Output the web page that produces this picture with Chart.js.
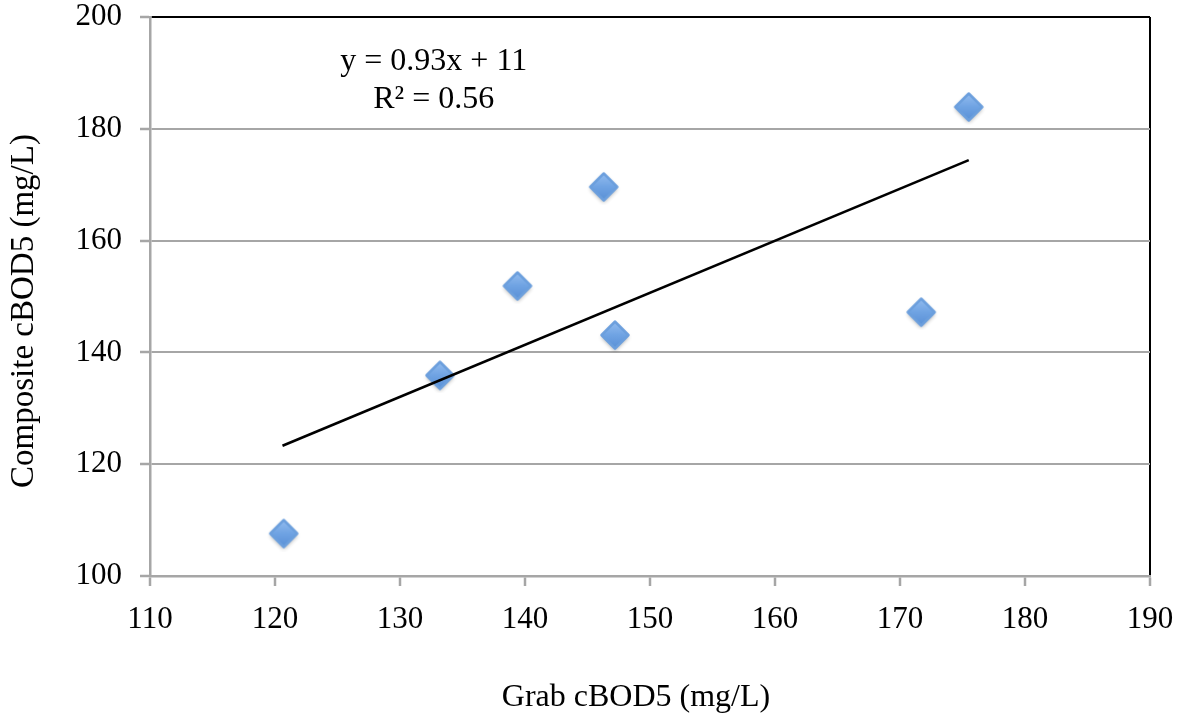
<!DOCTYPE html>
<html><head><meta charset="utf-8">
<script src="https://cdn.jsdelivr.net/npm/chart.js@4.4.1/dist/chart.umd.min.js"></script>
<style>html,body{margin:0;padding:0;background:#fff;overflow:hidden}#c{display:block}</style>
</head><body><canvas id="c" width="1182" height="719"></canvas>
<script>
// ---- data ----
const grabValues = [120.7, 133.2, 139.4, 146.3, 147.2, 171.7, 175.5];
const compositeValues = [107.6, 135.9, 151.9, 169.6, 143.1, 147.2, 183.9];
const trendX = [120.6, 175.5];
const trendY = [123.3, 174.4];
const xTickValues = [110, 120, 130, 140, 150, 160, 170, 180, 190];
const yTickValues = [100, 120, 140, 160, 180, 200];
const equationLines = ['y = 0.93x + 11', 'R\u00B2 = 0.56'];
const xTitle = 'Grab cBOD5 (mg/L)';
const yTitle = 'Composite cBOD5 (mg/L)';

// ---- styling ----
const FONT = '"Liberation Serif", "Times New Roman", serif';
const GRID = '#a6a6a6';

function makeDiamond() {
  const s = 36, c = document.createElement('canvas');
  c.width = s; c.height = s;
  const g = c.getContext('2d');
  const r = 13.5, cx = s / 2, cy = s / 2;
  function path() {
    g.beginPath();
    g.moveTo(cx, cy - r);
    g.lineTo(cx + r, cy);
    g.lineTo(cx, cy + r);
    g.lineTo(cx - r, cy);
    g.closePath();
  }
  g.lineJoin = 'round';
  g.save();
  g.shadowColor = 'rgba(0,0,0,0.35)';
  g.shadowBlur = 4;
  g.shadowOffsetY = 2;
  path();
  g.fillStyle = '#6a9fe0';
  g.fill();
  g.restore();
  const grad = g.createLinearGradient(0, cy - r, 0, cy + r);
  grad.addColorStop(0, '#93bcef');
  grad.addColorStop(0.5, '#6fa3e3');
  grad.addColorStop(1, '#5a90d6');
  path();
  g.fillStyle = grad;
  g.fill();
  g.lineWidth = 2.5;
  g.strokeStyle = '#6c9fdd';
  g.stroke();
  return c;
}
const diamond = makeDiamond();

const textPlugin = {
  id: 'texts',
  afterDatasetsDraw(chart) {
    const ctx = chart.ctx, xs = chart.scales.x, ys = chart.scales.y;
    ctx.save();
    ctx.font = '32px ' + FONT;
    ctx.fillStyle = '#000';
    ctx.textAlign = 'center';
    ctx.textBaseline = 'middle';
    const px = xs.getPixelForValue(132.7);
    ctx.fillText(equationLines[0], px, ys.getPixelForValue(192.0));
    ctx.fillText(equationLines[1], px, ys.getPixelForValue(185.3));
    ctx.restore();
  },
  afterDraw(chart) {
    const ctx = chart.ctx;
    ctx.save();
    ctx.fillStyle = '#000';
    ctx.textAlign = 'center';
    ctx.textBaseline = 'middle';
    ctx.font = '32px ' + FONT;
    ctx.fillText(xTitle, 636, 698);
    ctx.translate(24, 311);
    ctx.rotate(-Math.PI / 2);
    ctx.font = '33px ' + FONT;
    ctx.fillText(yTitle, 0, 0);
    ctx.restore();
  }
};

new Chart(document.getElementById('c'), {
  type: 'scatter',
  data: {
    datasets: [
      {
        label: 'Trend',
        type: 'line',
        data: trendX.map((x, i) => ({ x: x, y: trendY[i] })),
        borderColor: '#000',
        borderWidth: 2.6,
        pointRadius: 0,
        fill: false,
        order: 0
      },
      {
        label: 'Composite vs Grab',
        data: grabValues.map((x, i) => ({ x: x, y: compositeValues[i] })),
        pointStyle: diamond,
        pointRadius: 14,
        order: 1
      }
    ]
  },
  options: {
    responsive: false,
    devicePixelRatio: 1,
    animation: false,
    layout: { padding: { top: 17, right: 32, left: 0, bottom: 0 } },
    plugins: { legend: { display: false }, tooltip: { enabled: false } },
    scales: {
      x: {
        type: 'linear',
        min: 110, max: 190,
        afterBuildTicks(s) { s.ticks = xTickValues.map(v => ({ value: v })); },
        afterFit(s) { s.height = 143; s.paddingLeft = 0; s.paddingRight = 0; },
        ticks: { font: { family: FONT, size: 31 }, color: '#000', padding: 15, maxRotation: 0 },
        grid: {
          color: c => (c.tick && c.tick.value === 190) ? '#000' : 'rgba(0,0,0,0)',
          lineWidth: 2,
          tickColor: GRID,
          tickLength: 10,
          tickWidth: 2.5
        },
        border: { color: GRID, width: 2.5 },
        title: { display: false }
      },
      y: {
        type: 'linear',
        min: 100, max: 200,
        afterBuildTicks(s) { s.ticks = yTickValues.map(v => ({ value: v })); },
        afterFit(s) { s.width = 150; s.paddingTop = 0; s.paddingBottom = 0; },
        ticks: { font: { family: FONT, size: 31 }, color: '#000', padding: 18 },
        grid: {
          color: c => (c.tick && c.tick.value === 200) ? '#000' : GRID,
          lineWidth: 2,
          tickColor: GRID,
          tickLength: 10,
          tickWidth: 2.5
        },
        border: { color: GRID, width: 2.5 },
        title: { display: false }
      }
    }
  },
  plugins: [textPlugin]
});
</script>
</body></html>
